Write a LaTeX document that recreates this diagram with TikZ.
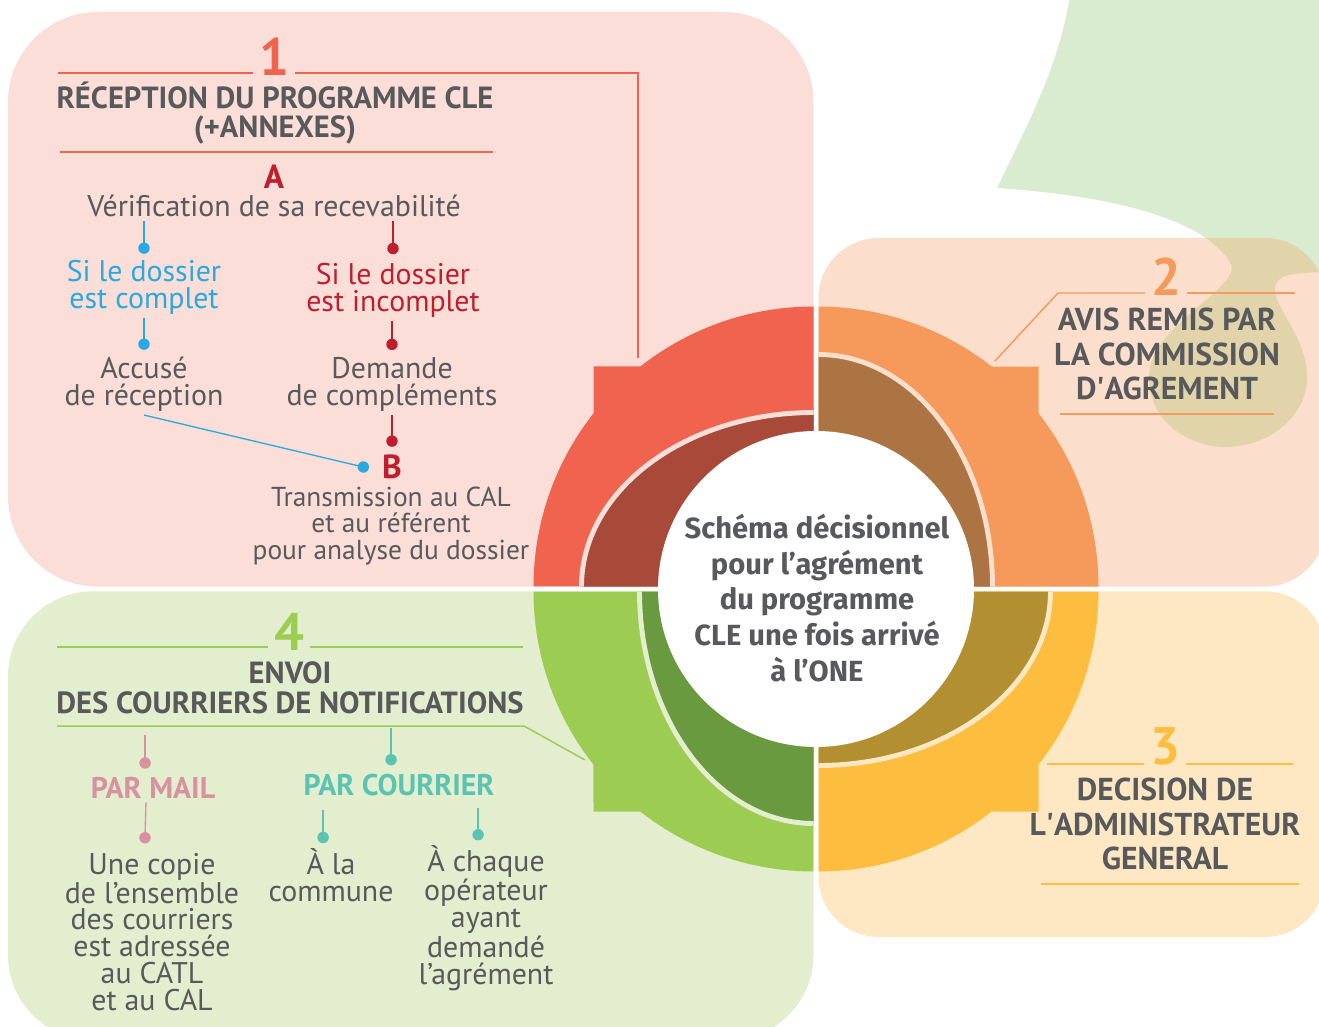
\documentclass[tikz,border=0pt]{standalone}
\usepackage{fontspec}
\setmainfont{PT Sans}
\newfontfamily\roundfont{Fira Sans}

\definecolor{ink}{HTML}{58595B}
\definecolor{bgone}{HTML}{FBDED8}
\definecolor{bgtwo}{HTML}{FBDFCC}
\definecolor{bgthree}{HTML}{FEE8C4}
\definecolor{bgfour}{HTML}{E2EECD}
\definecolor{blobgreen}{HTML}{D9ECCF}
\definecolor{blobtan}{HTML}{E1D3AA}
\definecolor{ringone}{HTML}{F0634E}
\definecolor{darkone}{HTML}{A8493A}
\definecolor{ringtwo}{HTML}{F69A5B}
\definecolor{darktwo}{HTML}{AD7443}
\definecolor{ringthree}{HTML}{FDBE3F}
\definecolor{darkthree}{HTML}{B28F30}
\definecolor{ringfour}{HTML}{9CCC52}
\definecolor{darkfour}{HTML}{6A9A3F}
\definecolor{cblue}{HTML}{29A9E0}
\definecolor{crimson}{HTML}{BF1E2E}
\definecolor{cpink}{HTML}{D7919F}
\definecolor{cteal}{HTML}{5CC3B2}

\tikzset{
  body/.style={font=\fontsize{17}{15.3}\selectfont, text=ink, align=center, inner sep=2pt},
  head/.style={font=\fontsize{17.4}{17}\selectfont\bfseries, text=ink, align=center, inner sep=2pt},
  bighead/.style={font=\fontsize{18}{19.8}\selectfont\bfseries, text=ink, align=center, inner sep=2pt},
  stepnum/.style={font=\fontsize{30}{30}\selectfont\bfseries, inner xsep=3pt, inner ysep=0pt},
  letter/.style={font=\fontsize{19}{19}\selectfont\bfseries, text=crimson, inner sep=2pt},
  way/.style={font=\fontsize{17}{17}\selectfont\bfseries, inner sep=2pt},
  rule/.style={line width=0.85pt},
  link/.style={line width=0.75pt},
  dot/.style={circle, fill, inner sep=0pt, minimum size=6.5pt},
}

% one quarter of the ring: rotation, outer, inner, stroke
\newcommand{\ringpart}[4]{%
  \begin{scope}[shift={(816,589)}, rotate=#1]
    \begin{scope}[shift={(-2.5,-2.5)}]
      \fill[#2] (0,0) -- (0,-280) arc[start angle=270, end angle=231.8, radius=280]
        -- (-220,-220) -- (-220,-173.2) arc[start angle=218.2, end angle=180, radius=280] -- cycle;
      \fill[#3] (0,0) -- (0,-174) arc[start angle=270, end angle=180, x radius=232, y radius=174] -- cycle;
      \draw[#4, line width=2.8pt] (0,-174) arc[start angle=270, end angle=180, x radius=232, y radius=174];
    \end{scope}
  \end{scope}}

\def\blobpath{(1070,-5) .. controls (1060,60) and (1035,110) .. (997,188)
  .. controls (1100,195) and (1200,215) .. (1230,262)
  .. controls (1245,285) and (1160,320) .. (1150,367)
  .. controls (1142,420) and (1190,448) .. (1227,447)
  .. controls (1275,446) and (1310,410) .. (1307,373)
  .. controls (1305,335) and (1272,305) .. (1275,287)
  .. controls (1277,275) and (1290,273) .. (1325,272)
  -- (1325,-5) -- cycle}

\begin{document}
\begin{tikzpicture}[x=0.02cm, y=-0.02cm]
\useasboundingbox (0,0) rectangle (1319,1027);

% backgrounds
\fill[blobgreen] \blobpath;
\fill[bgtwo, rounded corners=1.2cm] (818.5,238) rectangle (1325,586.7);
\begin{scope}
  \clip[rounded corners=1.2cm] (818.5,238) rectangle (1325,586.7);
  \fill[blobtan] \blobpath;
\end{scope}
\fill[bgone, rounded corners=1.8cm] (8,12) rectangle (813.5,586.7);
\fill[bgthree, rounded corners=1.2cm] (818.5,591.3) rectangle (1325,937);
\fill[bgfour, rounded corners=1.7cm] (8,591.3) rectangle (813.5,1040);

% ring
\ringpart{0}{ringone}{darkone}{bgone}
\ringpart{270}{ringtwo}{darktwo}{bgtwo}
\ringpart{180}{ringthree}{darkthree}{bgthree}
\ringpart{90}{ringfour}{darkfour}{bgfour}
\fill[white] (816,589) circle[radius=158];

\node[font=\roundfont\fontsize{16.6}{20.4}\selectfont\bfseries, text=ink, align=center] (ctr) at (817,598)
  {Schéma décisionnel\\pour l’agrément\\du programme\\CLE une fois arrivé\\à l’ONE};

% 1
\node[stepnum, text=ringone] (num1) at (274,57) {1};
\node[head] (title1) at (275,113) {RÉCEPTION DU PROGRAMME CLE\\(+ANNEXES)};
\coordinate (r1a) at (58,73);
\coordinate (r1b) at (638,73);
\coordinate (r1c) at (638,358);
\draw[rule, ringone] (r1a) -- (r1a -| num1.west);
\draw[rule, ringone] (r1a -| num1.east) -- (r1b) -- (r1c);
\draw[rule, ringone] (60,152) -- (493,152);
\node[letter] (letA) at (274,177) {A};
\node[body] (verif) at (274,206) {Vérification de sa recevabilité};
\node[body, text=cblue] (ok) at (144,287) {Si le dossier\\est complet};
\node[body, text=crimson] (nok) at (393,290) {Si le dossier\\est incomplet};
\node[body] (ack) at (144,384) {Accusé\\de réception};
\node[body] (req) at (392,384) {Demande\\de compléments};
\node[letter] (letB) at (392,467) {B};
\node[body, font=\fontsize{15.6}{15.3}\selectfont] (trans) at (391,526) {Transmission au CAL\\et au référent\\pour analyse du dossier};
\draw[link, cblue] (verif.south -| ok.north) -- ([yshift=4.5pt]ok.north) node[dot]{};
\draw[link, crimson] (verif.south -| nok.north) -- ([yshift=6pt]nok.north) node[dot]{};
\draw[link, cblue] (ok.south) -- ([yshift=5pt]ack.north) node[dot]{};
\draw[link, crimson] (nok.south -| req.north) -- ([yshift=5pt]req.north) node[dot]{};
\draw[link, crimson] (req.south) -- ([yshift=5.7pt]letB.north) node[dot]{};
\draw[link, cblue] (ack.south) -- ([xshift=-8.5pt]letB.west) node[dot]{};

% 2
\node[stepnum, text=ringtwo] (num2) at (1166,277) {2};
\node[bighead] (title2) at (1167,354) {AVIS REMIS PAR\\LA COMMISSION\\D\textquotesingle AGREMENT};
\coordinate (r2a) at (1058,293);
\draw[rule, ringtwo] (995,361) -- (r2a) -- (r2a -| num2.west);
\draw[rule, ringtwo] (r2a -| num2.east) -- (1295,293);
\draw[rule, ringtwo] (1060,414) -- (1274,414);

% 3
\node[stepnum, text=ringthree] (num3) at (1165,746) {3};
\node[bighead] (title3) at (1165,824) {DECISION DE\\L\textquotesingle ADMINISTRATEUR\\GENERAL};
\coordinate (r3a) at (1047,764);
\draw[rule, ringthree] (r3a) -- (r3a -| num3.west);
\draw[rule, ringthree] (r3a -| num3.east) -- (1293,764);
\draw[rule, ringthree] (1041,884) -- (1299,884);

% 4
\node[stepnum, text=ringfour] (num4) at (289,632) {4};
\node[head] (title4) at (290,688) {ENVOI\\DES COURRIERS DE NOTIFICATIONS};
\coordinate (r4a) at (57,647);
\draw[rule, ringfour] (r4a) -- (r4a -| num4.west);
\draw[rule, ringfour] (r4a -| num4.east) -- (523,647);
\draw[rule, ringfour] (57,726) -- (524,726) -- (585,760);
\node[way, text=cpink] (mail) at (153,788) {PAR MAIL};
\node[way, text=cteal] (post) at (399,785) {PAR COURRIER};
\node[body] (copy) at (152,932) {Une copie\\de l’ensemble\\des courriers\\est adressée\\au CATL\\et au CAL};
\node[body] (commune) at (331,875) {À la\\commune};
\node[body] (oper) at (486,918) {À chaque\\opérateur\\ayant\\demandé\\l’agrément};
\draw[link, cpink] ([xshift=-4.5pt, yshift=6pt]mail.north) node[dot]{} -- ++(0,-28);
\draw[link, cteal] ([xshift=-4.5pt, yshift=6pt]post.north) node[dot]{} -- ++(0,-32);
\draw[link, cpink] ([xshift=-4pt]mail.south) -- ([xshift=-4pt, yshift=6.5pt]copy.north) node[dot]{};
\draw[link, cteal] ([xshift=-4.5pt, yshift=4pt]commune.north) node[dot]{} -- ++(0,-27);
\draw[link, cteal] ([xshift=-4.5pt, yshift=4pt]oper.north) node[dot]{} -- ++(0,-27);
\end{tikzpicture}
\end{document}
